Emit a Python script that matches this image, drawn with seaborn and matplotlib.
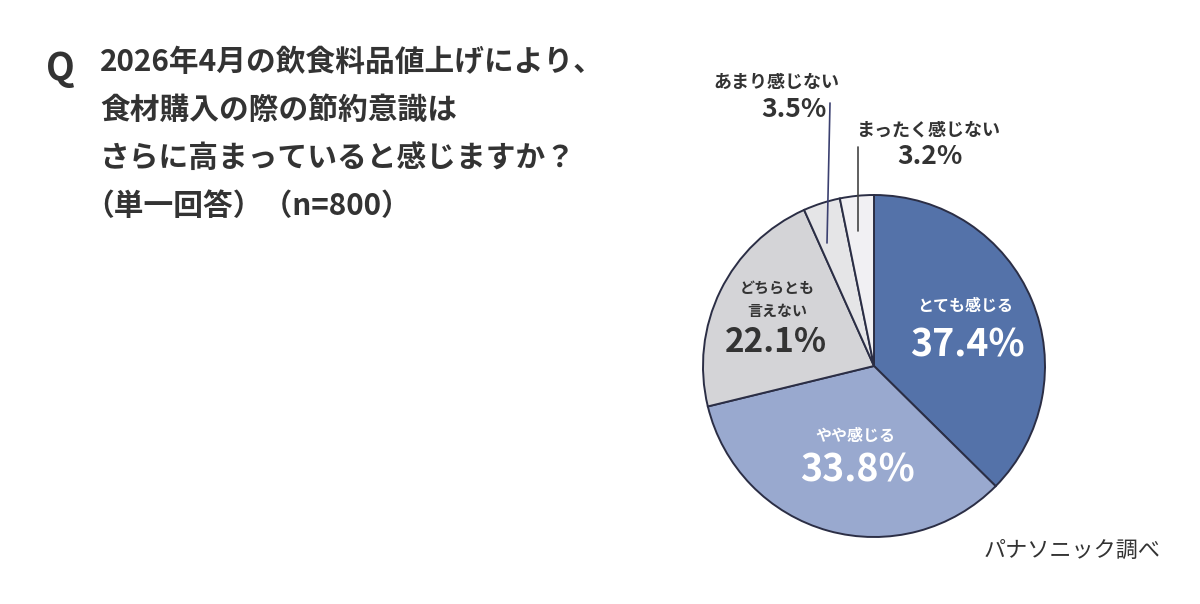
import matplotlib
matplotlib.use("Agg")
import matplotlib.pyplot as plt
import seaborn as sns

sns.set_theme(style="white")
plt.rcParams['font.family'] = ['Noto Sans CJK JP', 'DejaVu Sans']

categories = ["とても感じる", "やや感じる", "どちらとも\n言えない", "あまり感じない", "まったく感じない"]
values = [37.4, 33.8, 22.1, 3.5, 3.2]
colors = ["#5472a9", "#99a9cf", "#d4d4d7", "#e5e5e7", "#f1f0f3"]
title_lines = ["2026年4月の飲食料品値上げにより、", "食材購入の際の節約意識は",
               "さらに高まっていると感じますか？", "（単一回答）（n=800）"]
source = "パナソニック調べ"

W, H = 1200, 604
fig = plt.figure(figsize=(W / 100, H / 100), dpi=100)
fig.patch.set_facecolor("white")

cx, cy, r = 874, 366, 171
ax = fig.add_axes([(cx - r) / W, (H - cy - r) / H, 2 * r / W, 2 * r / H])
ax.pie(values, colors=colors, startangle=90, counterclock=False, radius=1,
       wedgeprops=dict(edgecolor="#2b2e45", linewidth=1.4))
ax.set_xlim(-1, 1)
ax.set_ylim(-1, 1)
ax.set_aspect("equal")
ax.axis("off")

def fx(px):
    return px / W

def fy(py):
    return 1 - py / H

def d(px, py):
    return (px - cx) / r, (cy - py) / r

dark = "#333333"
# title
fig.text(fx(46), fy(68), "Q", fontsize=27, fontweight="bold", color=dark, va="center", ha="left")
for i, line in enumerate(title_lines):
    x = 100 if i < 3 else 84
    fig.text(fx(x), fy(62 + 48 * i), line, fontsize=21.4, fontweight="bold", color=dark,
             va="center", ha="left")

# slice labels
fig.text(fx(965), fy(306), categories[0], fontsize=11.5, fontweight="bold", color="white", ha="center", va="center")
fig.text(fx(967), fy(345), f"{values[0]}%", fontsize=27, fontweight="bold", color="white", ha="center", va="center")
fig.text(fx(855), fy(436), categories[1], fontsize=11.5, fontweight="bold", color="white", ha="center", va="center")
fig.text(fx(857), fy(470), f"{values[1]}%", fontsize=27, fontweight="bold", color="white", ha="center", va="center")
c2 = categories[2].split("\n")
fig.text(fx(777), fy(288), c2[0], fontsize=10.8, fontweight="bold", color=dark, ha="center", va="center")
fig.text(fx(777), fy(311), c2[1], fontsize=10.8, fontweight="bold", color=dark, ha="center", va="center")
fig.text(fx(776), fy(343), f"{values[2]}%", fontsize=24, fontweight="bold", color=dark, ha="center", va="center")
fig.text(fx(776), fy(82), categories[3], fontsize=13, fontweight="bold", color=dark, ha="center", va="center")
fig.text(fx(794), fy(110), f"{values[3]}%", fontsize=19, fontweight="bold", color=dark, ha="center", va="center")
fig.text(fx(928), fy(130), categories[4], fontsize=13, fontweight="bold", color=dark, ha="center", va="center")
fig.text(fx(930), fy(157), f"{values[4]}%", fontsize=19, fontweight="bold", color=dark, ha="center", va="center")

# leader lines
x1, y1 = d(830, 103)
x2, y2 = d(827, 243)
ax.plot([x1, x2], [y1, y2], color="#3b4070", linewidth=1.2, clip_on=False)
x1, y1 = d(858, 147)
x2, y2 = d(858, 231)
ax.plot([x1, x2], [y1, y2], color="#444444", linewidth=1.2, clip_on=False)

fig.text(fx(1072), fy(551), source, fontsize=15.9, color=dark, ha="center", va="center")

fig.savefig("out.png", dpi=100, facecolor="white")
